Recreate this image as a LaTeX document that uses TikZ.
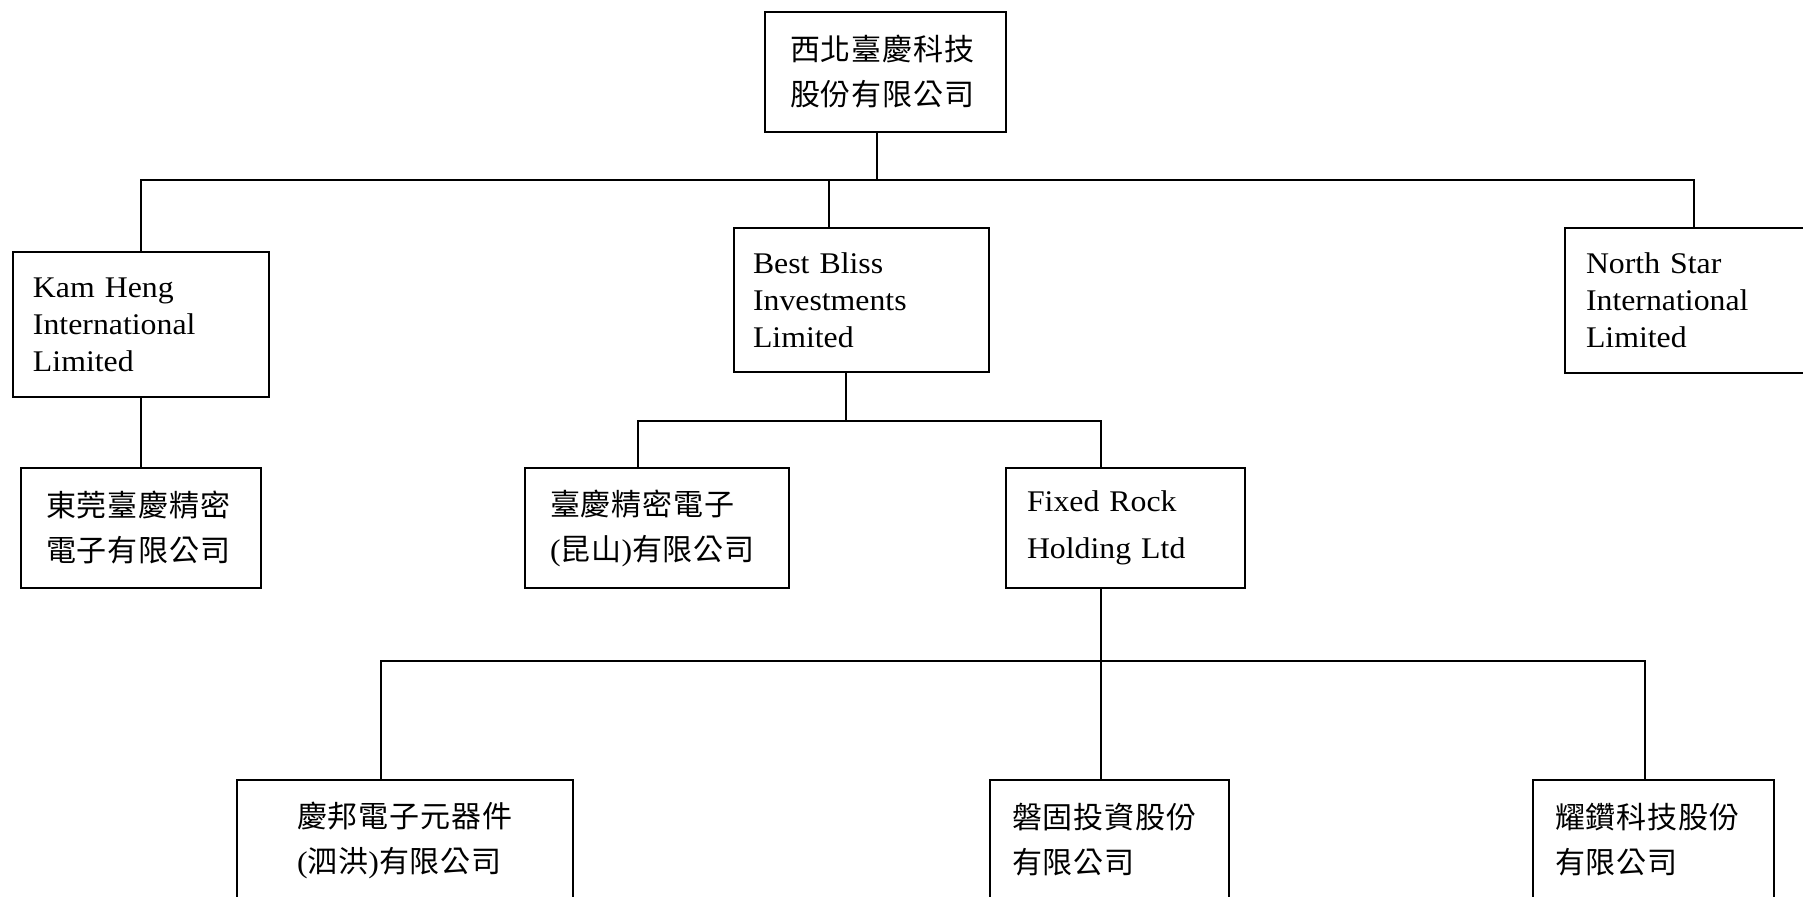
\documentclass[tikz,border=0pt]{standalone}
\usepackage{fontspec}
\setmainfont[FakeStretch=1.06]{Liberation Serif}
\newfontfamily\cjk[LetterSpace=3]{Noto Sans CJK TC}
\newcommand{\zh}[1]{{\cjk #1}}
\tikzset{
	orgbox/.style={draw,line width=0.8pt,align=left,inner ysep=0pt,inner xsep=8pt},
	entext/.style={font=\fontsize{12pt}{14.8pt}\selectfont},
	zhtext/.style={font=\fontsize{12pt}{18pt}\selectfont},
	link/.style={line width=0.8pt}
}

\begin{document}
\begin{tikzpicture}[x=0.4pt,y=0.4pt,yscale=-1]
	\clip (0,0) rectangle (1803,896);
	\node (top) at (885.5,72) [orgbox,zhtext,inner xsep=10pt,text width=76.4pt,minimum height=48pt] {\zh{西北臺慶科技}\\\zh{股份有限公司}};
	\node (kam) at (141,324.5) [orgbox,entext,text width=86.4pt,minimum height=58pt] {Kam Heng\\International\\Limited};
	\node (bliss) at (861.5,300) [orgbox,entext,inner xsep=7.6pt,text width=86.8pt,minimum height=57.6pt] {Best Bliss\\Investments\\Limited};
	\node (nstar) at (1694,300.5) [orgbox,entext,inner xsep=8.4pt,text width=86.4pt,minimum height=58pt] {North Star\\International\\Limited};
	\node (dg) at (141,528) [orgbox,zhtext,inner xsep=10pt,text width=76pt,minimum height=48pt] {\zh{東莞臺慶精密}\\\zh{電子有限公司}};
	\node (ks) at (657,528) [orgbox,zhtext,inner xsep=10pt,text width=85.6pt,minimum height=48pt] {\zh{臺慶精密電子}\\(\zh{昆山})\zh{有限公司}};
	\node (fixed) at (1125.5,528) [orgbox,font=\fontsize{12pt}{18.8pt}\selectfont,inner xsep=8.4pt,text width=78.8pt,minimum height=48pt] {Fixed Rock\\Holding Ltd};
	\node (qb) at (405,840) [orgbox,zhtext,inner xsep=24pt,text width=86.4pt,minimum height=48pt] {\zh{慶邦電子元器件}\\(\zh{泗洪})\zh{有限公司}};
	\node (pg) at (1109.5,840) [orgbox,zhtext,inner xsep=8.8pt,text width=78pt,minimum height=48pt] {\zh{磐固投資股份}\\\zh{有限公司}};
	\node (yz) at (1653.5,840) [orgbox,zhtext,inner xsep=8.8pt,text width=78.8pt,minimum height=48pt] {\zh{耀鑽科技股份}\\\zh{有限公司}};

	\coordinate (j0) at (877,180);
	\coordinate (b0) at (829,180);
	\coordinate (j1) at (846,421);
	\coordinate (k1) at (638,421);
	\coordinate (f1) at (1101,421);
	\coordinate (j2) at (1101,661);
	\coordinate (q1) at (381,661);
	\coordinate (y1) at (1645,661);

	\draw [link] (top.south -| j0) -- (j0);
	\draw [link] (kam.north) -- (kam.north |- j0) -- (nstar.north |- j0) -- (nstar.north);
	\draw [link] (b0) -- (b0 |- bliss.north);
	\draw [link] (kam) -- (dg);
	\draw [link] (bliss.south -| j1) -- (j1);
	\draw [link] (k1 |- ks.north) -- (k1) -- (f1) -- (f1 |- fixed.north);
	\draw [link] (fixed.south -| j2) -- (j2);
	\draw [link] (q1 |- qb.north) -- (q1) -- (y1) -- (y1 |- yz.north);
	\draw [link] (j2) -- (j2 |- pg.north);
\end{tikzpicture}
\end{document}
